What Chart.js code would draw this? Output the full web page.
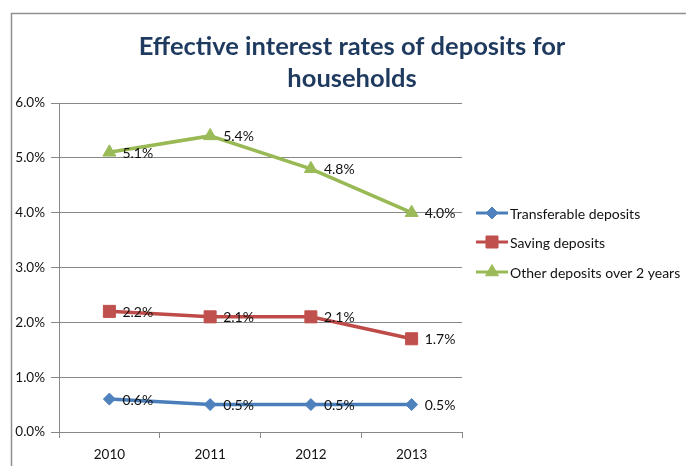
<!DOCTYPE html>
<html>
<head>
<meta charset="utf-8">
<script src="https://cdn.jsdelivr.net/npm/chart.js@4/dist/chart.umd.min.js"></script>
<style>
  html, body { margin: 0; padding: 0; background: #fff; }
  #wrap { width: 686px; height: 466px; position: relative; }
</style>
</head>
<body>
<div id="wrap"><canvas id="chart" width="686" height="466"></canvas></div>
<script>
"use strict";

// deposit rates, percent
var years = ['2010', '2011', '2012', '2013'];
var transferable = [0.6, 0.5, 0.5, 0.5];
var saving = [2.2, 2.1, 2.1, 1.7];
var otherOver2y = [5.1, 5.4, 4.8, 4.0];
var seriesNames = ['Transferable deposits', 'Saving deposits', 'Other deposits over 2 years'];
var yTicks = [0, 1, 2, 3, 4, 5, 6];
var titleLines = ['Effective interest rates of deposits for', 'households'];

var FONT = 'Lato, "Open Sans", sans-serif';
var GRID = '#878787';

function fmt(v) { return v.toFixed(1) + '%'; }

// outer frame, title, value labels and legend
var decor = {
	id: 'decor',
	beforeDraw: function(chart) {
		var ctx = chart.ctx;
		ctx.save();
		ctx.strokeStyle = '#8f8f8f';
		ctx.lineWidth = 1.5;
		ctx.strokeRect(11.5, 13.5, 700, 500);
		ctx.restore();
	},
	afterDraw: function(chart) {
		var ctx = chart.ctx;
		ctx.save();
		ctx.fillStyle = '#1f3a5f';
		ctx.font = 'bold 25.5px ' + FONT;
		ctx.textAlign = 'center';
		ctx.textBaseline = 'middle';
		ctx.fillText(titleLines[0], 352, 47);
		ctx.fillText(titleLines[1], 352, 79);

		// value labels to the right of each point
		ctx.font = '14px ' + FONT;
		ctx.fillStyle = '#111';
		ctx.textAlign = 'left';
		chart.data.datasets.forEach(function(ds, i) {
			chart.getDatasetMeta(i).data.forEach(function(pt, j) {
				ctx.fillText(fmt(ds.data[j]), pt.x + 13, pt.y + 1);
			});
		});

		// legend: line with marker
		var lx = 476, ly = [213, 242, 272];
		chart.data.datasets.forEach(function(ds, i) {
			var y = ly[i];
			ctx.strokeStyle = ds.borderColor;
			ctx.lineWidth = 3;
			ctx.beginPath();
			ctx.moveTo(lx, y);
			ctx.lineTo(lx + 32, y);
			ctx.stroke();
			ctx.fillStyle = ds.pointBackgroundColor;
			ctx.strokeStyle = ds.pointBackgroundColor;
			ctx.lineWidth = 1;
			Chart.helpers.drawPoint(ctx, {pointStyle: ds.pointStyle, radius: ds.pointRadius, borderWidth: 1}, lx + 16, y);
			ctx.fillStyle = '#111';
			ctx.fillText(ds.label, lx + 34, y + 1);
		});
		ctx.restore();
	}
};

function series(label, data, line, marker, style, radius) {
	return {
		label: label,
		data: data,
		borderColor: line,
		borderWidth: 3.5,
		pointStyle: style,
		pointRadius: radius,
		pointHoverRadius: radius,
		pointBackgroundColor: marker,
		pointBorderColor: marker,
		pointBorderWidth: 1,
		tension: 0,
		fill: false
	};
}

new Chart(document.getElementById('chart').getContext('2d'), {
	type: 'line',
	data: {
		labels: years,
		datasets: [
			series(seriesNames[0], transferable, '#4a7ebb', '#4f81bd', 'rectRot', 6),
			series(seriesNames[1], saving, '#be4b48', '#c0504d', 'rect', 8.5),
			series(seriesNames[2], otherOver2y, '#98b954', '#9bbb59', 'triangle', 7.5)
		]
	},
	options: {
		responsive: false,
		animation: false,
		layout: { padding: { top: 103, right: 224, left: 0, bottom: 0 } },
		plugins: {
			legend: { display: false },
			title: { display: false },
			tooltip: { enabled: false }
		},
		scales: {
			x: {
				offset: true,
				grid: { offset: true, drawOnChartArea: false, color: GRID, tickLength: 6 },
				border: { color: GRID, width: 1 },
				ticks: { color: '#111', font: { family: FONT, size: 13.5 }, padding: 9 },
				afterFit: function(s) { s.height = 34; }
			},
			y: {
				min: 0,
				max: 6,
				afterBuildTicks: function(s) { s.ticks = yTicks.map(function(v) { return {value: v}; }); },
				grid: { color: GRID, tickLength: 8 },
				border: { color: GRID, width: 1 },
				ticks: {
					color: '#111',
					font: { family: FONT, size: 13.5 },
					padding: 6,
					callback: function(v) { return fmt(v); }
				},
				afterFit: function(s) { s.width = 59; }
			}
		}
	},
	plugins: [decor]
});
</script>
</body>
</html>
